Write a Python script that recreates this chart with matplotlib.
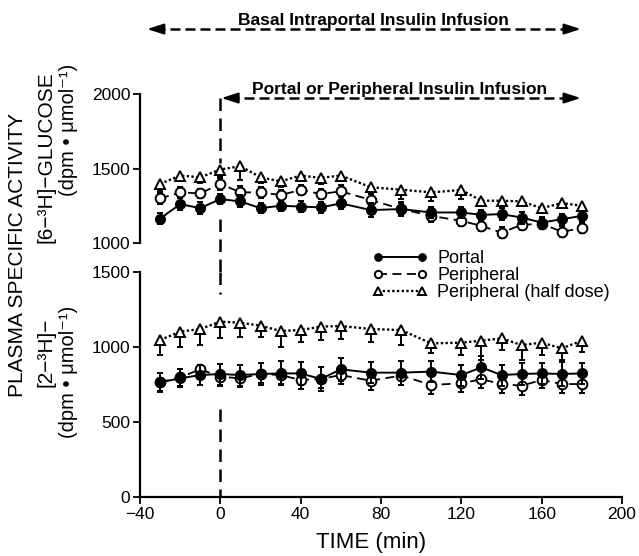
import matplotlib
matplotlib.use("Agg")
import matplotlib.pyplot as plt

plt.rcParams["font.family"] = ["Liberation Sans", "DejaVu Sans"]

# sampling times (min)
time = [-30, -20, -10, 0, 10, 20, 30, 40, 50, 60, 75, 90, 105, 120, 130, 140, 150, 160, 170, 180]

# [6-3H]-glucose specific activity (dpm/umol)
glc_portal = [1164, 1261, 1234, 1295, 1279, 1234, 1250, 1245, 1239, 1266, 1221, 1228, 1205, 1205, 1189, 1194, 1171, 1137, 1160, 1182]
glc_periph = [1299, 1340, 1333, 1397, 1340, 1340, 1322, 1356, 1329, 1347, 1289, 1228, 1182, 1149, 1115, 1070, 1122, 1130, 1076, 1099]
glc_half = [1397, 1453, 1441, 1493, 1516, 1441, 1414, 1453, 1437, 1453, 1374, 1358, 1340, 1356, 1284, 1284, 1279, 1234, 1268, 1250]
glc_portal_err = [35, 40, 40, 35, 40, 35, 35, 35, 35, 40, 45, 40, 35, 35, 35, 40, 40, 40, 35, 35]
glc_periph_err = [35, 35, 30, 40, 45, 35, 35, 35, 35, 40, 40, 45, 40, 35, 35, 35, 35, 35, 35, 35]
glc_half_err = [45, 40, 40, 45, 90, 40, 40, 40, 40, 40, 35, 60, 60, 60, 35, 35, 30, 35, 35, 30]

# [2-3H]-glucose specific activity (dpm/umol)
g2_portal = [765, 791, 813, 820, 813, 820, 824, 824, 787, 851, 829, 829, 836, 813, 864, 813, 820, 824, 820, 824]
g2_periph = [765, 798, 851, 802, 791, 820, 813, 780, 787, 813, 775, 810, 747, 758, 785, 753, 742, 780, 753, 753]
g2_half = [1047, 1102, 1120, 1169, 1162, 1142, 1107, 1113, 1136, 1140, 1120, 1113, 1024, 1029, 1042, 1058, 1013, 1029, 991, 1042]
g2_portal_err = [65, 60, 65, 70, 70, 75, 80, 75, 80, 75, 70, 80, 70, 70, 75, 70, 75, 70, 80, 70]
g2_periph_err = [55, 60, 60, 60, 60, 60, 60, 60, 60, 60, 60, 60, 60, 60, 60, 60, 60, 55, 60, 60]
g2_half_err = [100, 105, 107, 110, 93, 78, 105, 78, 89, 89, 89, 100, 62, 82, 130, 78, 100, 82, 80, 73]

fig = plt.figure(figsize=(6.39, 5.56), dpi=100)
ax_top = fig.add_axes([0.2191, 0.5629, 0.7543, 0.268])
ax_bot = fig.add_axes([0.2191, 0.1061, 0.7543, 0.4047])

style_portal = dict(color="black", marker="o", markersize=7, markerfacecolor="black",
                    markeredgecolor="black", linestyle="-", linewidth=1.4)
style_periph = dict(color="black", marker="o", markersize=7, markerfacecolor="white",
                    markeredgecolor="black", markeredgewidth=1.4, linestyle=(0, (5, 3)), linewidth=1.3)
style_half = dict(color="black", marker="^", markersize=7, markerfacecolor="white",
                  markeredgecolor="black", markeredgewidth=1.4, linestyle=(0, (1, 1)), linewidth=1.7)
eb = dict(ecolor="black", elinewidth=1.4, capsize=2.5, capthick=1.4)

# ---- top panel ----
ax_top.errorbar(time, glc_half, yerr=[glc_half_err, [0] * len(time)], zorder=3, **eb, **style_half)
ax_top.errorbar(time, glc_periph, yerr=glc_periph_err, zorder=4, **eb, **style_periph)
ax_top.errorbar(time, glc_portal, yerr=glc_portal_err, zorder=5, **eb, **style_portal)
ax_top.set_xlim(-40, 200)
ax_top.set_ylim(1000, 2000)
ax_top.set_yticks([1000, 1500, 2000])
for s in ["top", "right", "bottom"]:
    ax_top.spines[s].set_visible(False)
ax_top.set_xticks([])

# ---- bottom panel ----
c3 = ax_bot.errorbar(time, g2_half, yerr=[g2_half_err, [0] * len(time)], zorder=3, **eb, **style_half)
c2 = ax_bot.errorbar(time, g2_periph, yerr=[g2_periph_err, [0] * len(time)], zorder=4, **eb, **style_periph)
c1 = ax_bot.errorbar(time, g2_portal, yerr=g2_portal_err, zorder=5, **eb, **style_portal)
ax_bot.set_xlim(-40, 200)
ax_bot.set_ylim(0, 1500)
ax_bot.set_xticks([-40, 0, 40, 80, 120, 160, 200])
ax_bot.set_xticklabels(["\u221240", "0", "40", "80", "120", "160", "200"])
ax_bot.set_yticks([0, 500, 1000, 1500])
for s in ["top", "right"]:
    ax_bot.spines[s].set_visible(False)
ax_bot.set_xlabel("TIME (min)", fontsize=16)
ax_bot.xaxis.set_label_coords((371 - 140) / 482, -0.155)

for ax in (ax_top, ax_bot):
    ax.spines["left"].set_linewidth(1.6)
    ax.spines["bottom"].set_linewidth(1.6)
    ax.tick_params(direction="out", length=5, width=1.3, labelsize=12.5, pad=2)

# vertical dashed line at time 0
dash = (0, (5, 3))
ax_top.plot([0, 0], [1975, 1540], color="black", lw=1.8, ls=dash, clip_on=False)
ax_top.plot([0, 0], [1160, 805], color="black", lw=1.8, ls=dash, clip_on=False)
ax_bot.plot([0, 0], [1500, 1350], color="black", lw=1.8, ls=dash, clip_on=False)
ax_bot.plot([0, 0], [590, 0], color="black", lw=1.8, ls=dash, clip_on=False)

# infusion arrows
def dashed_arrow(x0, x1, y):
    ax_top.plot([x0 + 4, x1 - 4], [y, y], color="black", lw=1.8, ls=(0, (4, 2)), clip_on=False)
    for tip, tail in ((x1, x1 - 6), (x0, x0 + 6)):
        ax_top.annotate("", xy=(tip, y), xytext=(tail, y), annotation_clip=False,
                        arrowprops=dict(arrowstyle="-|>,head_length=1.0,head_width=0.32",
                                        color="black", lw=1.5, shrinkA=0, shrinkB=0))

dashed_arrow(-36.5, 179.5, 2436)
dashed_arrow(0.5, 179.5, 1973)
ax_top.text(76, 2463, "Basal Intraportal Insulin Infusion", ha="center", va="baseline",
            fontsize=12.5, fontweight="bold", clip_on=False)
ax_top.text(89, 2000, "Portal or Peripheral Insulin Infusion", ha="center", va="baseline",
            fontsize=12.5, fontweight="bold", clip_on=False)

# y labels
def ftext(px, py, s, size):
    fig.text(px / 639, 1 - py / 556, s, rotation=90, ha="center", va="center", fontsize=size)

ftext(18, 255, "PLASMA SPECIFIC ACTIVITY", 15)
ftext(46, 157, "[6\u2212\u00b3H]\u2212GLUCOSE", 15)
ftext(68, 130, "(dpm \u2022 \u03bcmol\u207b\u00b9)", 14.5)
ftext(46, 352, "[2\u2212\u00b3H]\u2212", 15)
ftext(68, 372, "(dpm \u2022 \u03bcmol\u207b\u00b9)", 14.5)

# legend
fig.legend([c1.lines[0], c2.lines[0], c3.lines[0]],
           ["Portal", "Peripheral", "Peripheral (half dose)"],
           loc="upper left", bbox_to_anchor=(373 / 639, 1 - 250 / 556), frameon=False,
           fontsize=13, numpoints=2, handlelength=3.0, handletextpad=0.55,
           labelspacing=0.0, borderpad=0, borderaxespad=0, markerscale=0.75)

fig.savefig("out.png", dpi=100)
